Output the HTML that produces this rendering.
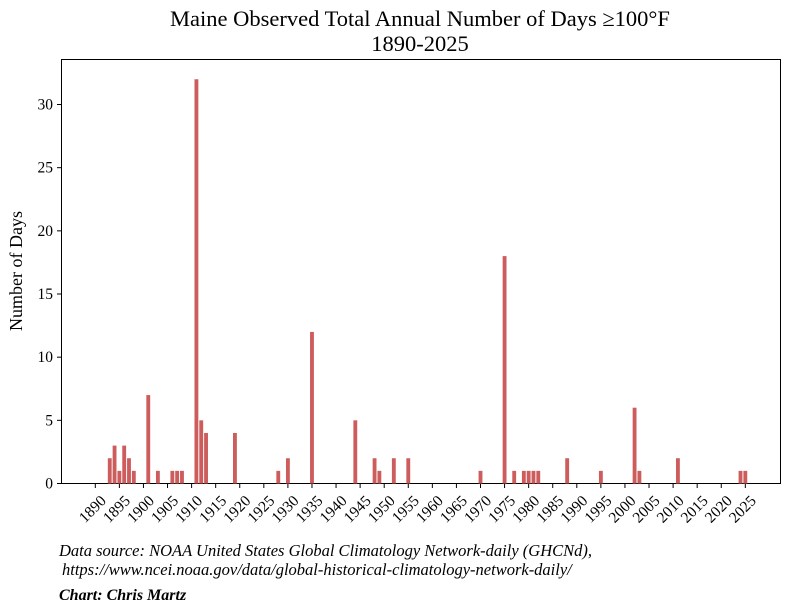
<!DOCTYPE html>
<html><head><meta charset="utf-8"><style>
body{margin:0;background:#fff}
svg{display:block;font-family:"Liberation Serif",serif}
</style></head><body>
<svg id="chart" width="790" height="613">
<text x="420" y="26" text-anchor="middle" font-size="22.5">Maine Observed Total Annual Number of Days ≥100°F</text>
<text x="420" y="51" text-anchor="middle" font-size="22.5">1890-2025</text>
<rect x="61.5" y="59.5" width="719" height="424" fill="none" stroke="#000" stroke-width="1"/>
<g id="bars"></g><g id="xaxis"></g><g id="yaxis"></g>
<text transform="translate(22,271) rotate(-90)" text-anchor="middle" font-size="18">Number of Days</text>
<text x="59" y="556" font-size="16.5" font-style="italic">Data source: NOAA United States Global Climatology Network-daily (GHCNd),</text>
<text x="62" y="575" font-size="16.5" font-style="italic">https://www.ncei.noaa.gov/data/global-historical-climatology-network-daily/</text>
<text x="59" y="600" font-size="16" font-style="italic" font-weight="bold">Chart: Chris Martz</text>
</svg>
<script>
const years=[1893,1894,1895,1896,1897,1898,1901,1903,1906,1907,1908,1911,1912,1913,1919,1928,1930,1935,1944,1948,1949,1952,1955,1970,1975,1977,1979,1980,1981,1982,1988,1995,2002,2003,2011,2024,2025];
const days=[2,3,1,3,2,1,7,1,1,1,1,32,5,4,4,1,2,12,5,2,1,2,2,1,18,1,1,1,1,1,2,1,6,1,2,1,1];
const xTicks=[1890,1895,1900,1905,1910,1915,1920,1925,1930,1935,1940,1945,1950,1955,1960,1965,1970,1975,1980,1985,1990,1995,2000,2005,2010,2015,2020,2025];
const yTicks=[0,5,10,15,20,25,30];
const NS='http://www.w3.org/2000/svg';
const x=y=>95.3+(y-1890)*4.815;
const yv=v=>483.5-v*12.633;
const bw=3.85;
const bars=document.getElementById('bars');
years.forEach((yr,i)=>{
  const r=document.createElementNS(NS,'rect');
  r.setAttribute('x',x(yr)-bw/2);r.setAttribute('y',yv(days[i]));
  r.setAttribute('width',bw);r.setAttribute('height',yv(0)-yv(days[i]));
  r.setAttribute('fill','#cd5c5c');
  
  
  bars.appendChild(r);
});
const xa=document.getElementById('xaxis');
xTicks.forEach(t=>{
  const l=document.createElementNS(NS,'line');
  l.setAttribute('x1',x(t));l.setAttribute('x2',x(t));l.setAttribute('y1',484);l.setAttribute('y2',488);l.setAttribute('stroke','#000');
  
  
  xa.appendChild(l);
  const tx=document.createElementNS(NS,'text');
  tx.setAttribute('transform',`translate(${x(t)+4},${494}) rotate(-45)`);
  tx.setAttribute('text-anchor','end');tx.setAttribute('font-size','15.5');tx.setAttribute('dy','0.7em');
  tx.textContent=t;
  
  
  xa.appendChild(tx);
});
const ya=document.getElementById('yaxis');
yTicks.forEach(t=>{
  const l=document.createElementNS(NS,'line');
  l.setAttribute('x1',57);l.setAttribute('x2',61);l.setAttribute('y1',yv(t));l.setAttribute('y2',yv(t));l.setAttribute('stroke','#000');
  
  
  ya.appendChild(l);
  const tx=document.createElementNS(NS,'text');
  tx.setAttribute('x',53);tx.setAttribute('y',yv(t)+5);tx.setAttribute('text-anchor','end');tx.setAttribute('font-size','15.5');
  tx.textContent=t;
  
  
  ya.appendChild(tx);
});
</script>
</body></html>
